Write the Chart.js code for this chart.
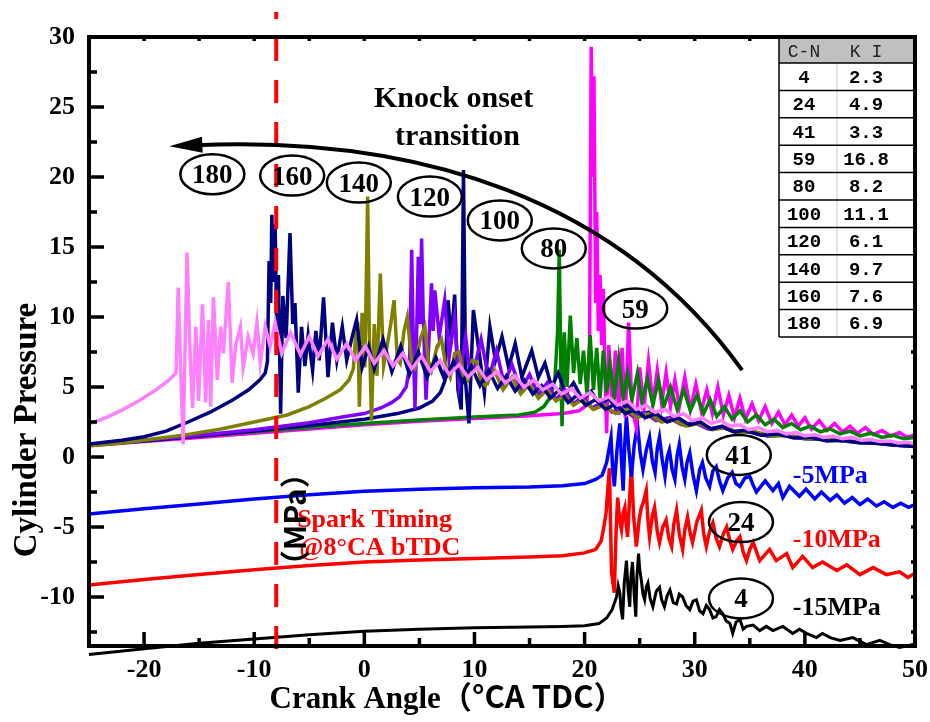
<!DOCTYPE html>
<html lang="en">
<head>
<meta charset="utf-8">
<title>Cylinder pressure vs crank angle</title>
<script src="https://cdn.jsdelivr.net/npm/chart.js@4.4.1/dist/chart.umd.min.js"></script>
<style>
  html, body { margin: 0; padding: 0; background: #fff; }
  canvas { display: block; }
</style>
</head>
<body>
<canvas id="grafikTekanan" width="930" height="722"></canvas>
<script>
// ====== DATA ======
// every trace is a list of [crank angle, pressure] points.
// the three lower traces are kept as plotted (already shifted -5 / -10 / -15 MPa)

const xTicks = [-20, -10, 0, 10, 20, 30, 40, 50];
const yTicks = [-10, -5, 0, 5, 10, 15, 20, 25, 30];
const sparkAngle = -8;

const cn180 = [
  [-25, 2.36], [-23.5, 2.8], [-22, 3.35], [-20.5, 4.0], [-19, 4.75], [-17.8, 5.45], [-17.1, 6.0],
  [-16.9, 12.1], [-16.65, 5.5], [-16.45, 0.9], [-16.1, 14.6], [-15.85, 8.0], [-15.6, 3.5], [-15.3, 9.3],
  [-15.05, 4.0], [-14.7, 10.9], [-14.4, 3.9], [-14.15, 9.8], [-13.95, 3.6], [-13.7, 11.4], [-13.35, 5.5],
  [-13.05, 9.3], [-12.8, 7.4], [-12.35, 12.5], [-12.0, 5.3], [-11.7, 7.9], [-11.25, 9.3], [-11.0, 6.4],
  [-10.55, 8.6], [-10.1, 7.4], [-9.75, 9.6], [-9.45, 6.7], [-9.0, 9.3], [-8.55, 7.9], [-8.1, 9.6],
  [-7.5, 7.4], [-6.7, 8.9], [-5.8, 7.3], [-5.0, 8.6], [-4.2, 7.2], [-3.3, 8.4], [-2.5, 7.0], [-1.6, 8.1],
  [-0.8, 6.9], [0.1, 7.9], [0.9, 6.7], [1.8, 7.6], [2.6, 6.5], [3.5, 7.4], [4.3, 6.3], [5.2, 7.2],
  [6.0, 6.1], [6.9, 6.9], [7.7, 5.9], [8.6, 6.6], [9.4, 5.7], [10.3, 6.4], [11.1, 5.5], [12.0, 6.1],
  [12.8, 5.3], [13.7, 5.8], [14.5, 5.0], [15.4, 5.5], [16.2, 4.8], [17.1, 5.2], [17.9, 4.5], [18.8, 4.9],
  [19.6, 4.2], [20.5, 4.6], [21.3, 4.0], [22.2, 4.3], [23.0, 3.7], [23.9, 4.0], [24.7, 3.4], [25.6, 3.7],
  [26.4, 3.2], [27.3, 3.4], [28.1, 2.9], [29.0, 3.1], [29.8, 2.6], [30.7, 2.8], [31.5, 2.4], [32.4, 2.6],
  [33.2, 2.2], [34.1, 2.3], [34.9, 1.95], [35.8, 2.1], [36.6, 1.8], [37.5, 1.9], [38.3, 1.65], [39.2, 1.75],
  [40.0, 1.5], [40.9, 1.6], [41.7, 1.4], [42.6, 1.5], [43.4, 1.3], [44.3, 1.4], [45.1, 1.2], [46.0, 1.25],
  [46.8, 1.1], [47.7, 1.15], [48.5, 1.0], [49.4, 1.05], [50.0, 0.95]
];

const cn160 = [
  [-25, 0.93], [-22, 1.2], [-20, 1.45], [-18, 1.85], [-16, 2.5], [-14, 3.2], [-12, 4.05], [-10.5, 4.8],
  [-9.5, 5.5], [-9.0, 6.0], [-8.8, 6.8],
  [-8.65, 14.0], [-8.5, 11.0], [-8.4, 17.3], [-8.25, 12.5], [-8.1, 16.6], [-7.95, 9.0], [-7.8, 13.0],
  [-7.6, 3.1], [-7.4, 11.5], [-7.1, 8.5], [-6.75, 16.0], [-6.5, 9.5], [-6.3, 11.0], [-6.0, 4.6],
  [-5.7, 9.3], [-5.4, 6.5], [-5.1, 8.7], [-4.7, 6.2], [-4.4, 9.0], [-4.1, 6.9], [-3.7, 11.4], [-3.3, 5.7],
  [-2.9, 9.6], [-2.5, 6.9], [-2.0, 9.3], [-1.6, 6.9], [-1.1, 8.6], [-0.7, 9.8], [-0.2, 6.4], [0.4, 7.9],
  [0.9, 6.3], [1.7, 8.4], [2.5, 6.1], [3.3, 7.9], [4.1, 5.9], [4.9, 7.5], [5.7, 5.7], [6.5, 7.1],
  [7.3, 5.5], [8.1, 6.8], [8.9, 5.3], [9.7, 6.5], [10.5, 5.1], [11.3, 6.2], [12.1, 4.9], [12.9, 5.8],
  [13.7, 4.7], [14.5, 5.5], [15.3, 4.5], [16.1, 5.1], [16.9, 4.2], [17.7, 4.8], [18.5, 3.9], [19.3, 4.4],
  [20.1, 3.7], [21.0, 4.1], [21.9, 3.4], [22.8, 3.8], [23.7, 3.1], [24.6, 3.4], [25.5, 2.8], [26.5, 3.1],
  [27.5, 2.5], [28.5, 2.8], [29.5, 2.3], [30.5, 2.5], [31.5, 2.0], [32.5, 2.2], [33.5, 1.8], [34.5, 1.9],
  [36.0, 1.55], [37.5, 1.65], [39.0, 1.35], [40.5, 1.4], [42.0, 1.15], [43.5, 1.2], [45.0, 1.0],
  [46.5, 1.0], [48.0, 0.85], [50.0, 0.75]
];

const cn140 = [
  [-25, 0.8], [-22, 1.0], [-19, 1.3], [-16, 1.6], [-13, 2.0], [-10, 2.5], [-7, 3.0], [-5, 3.6],
  [-3.5, 4.2], [-2.2, 4.8], [-1.4, 5.5], [-1.0, 6.3],
  [-0.8, 8.5], [-0.6, 9.6], [-0.45, 3.6], [-0.2, 10.3], [0.05, 6.4], [0.3, 18.6], [0.45, 9.0], [0.65, 2.6],
  [0.9, 9.5], [1.15, 5.8], [1.45, 13.1], [1.75, 6.5], [2.0, 7.6], [2.4, 9.5], [2.7, 11.2], [3.0, 7.0],
  [3.25, 6.7], [3.6, 9.0], [3.9, 10.0], [4.3, 6.8], [4.6, 6.4], [5.1, 8.5], [5.5, 9.3], [5.8, 6.9],
  [6.1, 6.2], [6.6, 7.9], [7.0, 8.4], [7.4, 6.5], [7.8, 5.7], [8.2, 7.4], [8.6, 7.5], [9.0, 5.8],
  [9.4, 5.5], [9.8, 6.9], [10.2, 6.8], [10.6, 5.4], [11.0, 5.1], [11.8, 6.2], [12.6, 4.8], [13.4, 5.7],
  [14.2, 4.5], [15.0, 5.2], [15.8, 4.2], [16.6, 4.8], [17.4, 4.0], [18.2, 4.4], [19.0, 3.7], [19.8, 4.1],
  [20.8, 3.4], [21.8, 3.7], [22.8, 3.1], [23.8, 3.4], [24.8, 2.8], [25.8, 3.1], [27.0, 2.5], [28.0, 2.7],
  [29.2, 2.2], [30.4, 2.4], [31.6, 1.95], [32.8, 2.1], [34.0, 1.75], [35.5, 1.8], [37.0, 1.5], [38.5, 1.55],
  [40.0, 1.3], [42.0, 1.3], [44.0, 1.1], [46.0, 1.05], [48.0, 0.9], [50.0, 0.8]
];

const cn120 = [
  [-25, 0.85], [-20, 1.2], [-15, 1.55], [-10, 1.95], [-5, 2.45], [-2, 2.85], [0, 3.1], [1.5, 3.5],
  [2.5, 3.9], [3.2, 4.3], [3.8, 5.0], [4.1, 6.4],
  [4.3, 14.8], [4.45, 8.0], [4.6, 3.4], [4.9, 14.3], [5.05, 9.5], [5.2, 15.6], [5.35, 10.0], [5.6, 4.1],
  [5.85, 8.0], [6.1, 12.4], [6.25, 9.0], [6.4, 11.9], [6.8, 8.6], [7.3, 11.2], [7.7, 7.1], [8.2, 10.0],
  [8.6, 5.3], [9.2, 8.6], [9.6, 5.9], [10.0, 6.4], [10.6, 8.4], [11.3, 5.6], [12.0, 7.6], [12.7, 5.2],
  [13.4, 6.6], [14.2, 4.8], [15.0, 5.9], [15.8, 4.4], [16.6, 5.3], [17.4, 4.1], [18.2, 4.8], [19.0, 3.8],
  [19.8, 4.3], [20.7, 3.5], [21.6, 3.9], [22.5, 3.2], [23.4, 3.5], [24.4, 2.9], [25.4, 3.2], [26.5, 2.6],
  [27.6, 2.8], [28.8, 2.3], [30.0, 2.45], [31.2, 2.0], [32.4, 2.15], [33.6, 1.8], [35.0, 1.85], [36.5, 1.55],
  [38.0, 1.6], [40.0, 1.35], [42.0, 1.3], [44.0, 1.15], [46.0, 1.05], [48.0, 0.9], [50.0, 0.8]
];

const cn100 = [
  [-25, 0.85], [-20, 1.15], [-15, 1.5], [-10, 1.85], [-5, 2.25], [0, 2.7], [3, 3.1], [5, 3.5],
  [6.2, 4.0], [6.9, 4.6], [7.3, 5.4],
  [7.6, 11.2], [7.9, 8.4], [8.2, 11.6], [8.5, 4.8], [8.8, 3.4], [9.0, 20.5], [9.2, 5.3], [9.5, 2.4],
  [9.9, 10.5], [10.4, 7.6], [10.9, 4.6], [11.4, 9.3], [11.9, 6.9], [12.5, 8.6], [13.1, 6.4], [13.7, 8.1],
  [14.3, 5.7], [15.2, 7.6], [15.8, 5.7], [16.4, 6.7], [17.0, 5.0], [17.6, 6.0], [18.3, 4.5], [19.0, 5.3],
  [19.8, 4.1], [20.6, 4.7], [21.4, 3.7], [22.2, 4.2], [23.0, 3.3], [23.9, 3.7], [24.8, 3.0], [25.8, 3.2],
  [26.8, 2.6], [27.8, 2.8], [29.0, 2.3], [30.2, 2.4], [31.4, 2.0], [32.6, 2.1], [33.8, 1.75], [35.2, 1.8],
  [36.6, 1.5], [38.0, 1.55], [40.0, 1.3], [42.0, 1.25], [44.0, 1.1], [46.0, 1.0], [48.0, 0.85], [50.0, 0.75]
];

const cn80 = [
  [-25, 0.85], [-20, 1.15], [-15, 1.5], [-10, 1.8], [-5, 2.1], [0, 2.4], [5, 2.65], [10, 2.85],
  [14, 3.0], [15.5, 3.2], [16.3, 3.6], [16.9, 4.3], [17.3, 5.5],
  [17.55, 9.0], [17.7, 14.8], [17.85, 6.0], [17.95, 2.2], [18.15, 8.9], [18.4, 5.0], [18.7, 10.1],
  [19.0, 6.0], [19.3, 8.5], [19.6, 5.2], [19.9, 7.6], [20.2, 4.6], [20.5, 8.7], [20.8, 4.8], [21.1, 7.8],
  [21.4, 4.2], [21.7, 7.6], [22.0, 4.6], [22.3, 6.7], [22.7, 4.3], [23.1, 7.0], [23.5, 4.2], [23.9, 6.0],
  [24.3, 4.1], [24.8, 6.0], [25.2, 3.9], [25.7, 5.6], [26.2, 3.7], [26.7, 5.5], [27.2, 3.6], [27.8, 5.0],
  [28.4, 3.4], [29.0, 4.8], [29.6, 3.3], [30.2, 4.4], [30.8, 3.1], [31.4, 4.1], [32.0, 2.9], [32.7, 3.6],
  [33.4, 2.7], [34.1, 3.3], [34.8, 2.5], [35.6, 3.0], [36.4, 2.3], [37.2, 2.7], [38.0, 2.1], [38.8, 2.4],
  [39.6, 1.95], [40.5, 2.2], [41.4, 1.8], [42.3, 2.0], [43.2, 1.65], [44.1, 1.85], [45.0, 1.5], [46.0, 1.7],
  [47.0, 1.4], [48.0, 1.55], [49.0, 1.3], [50.0, 1.4]
];

const cn59 = [
  [-25, 0.8], [-20, 1.1], [-15, 1.4], [-10, 1.7], [-5, 2.0], [0, 2.3], [5, 2.55], [10, 2.75],
  [15, 2.95], [18, 3.1], [19.5, 3.3], [20.2, 3.7],
  [20.45, 8.0], [20.6, 29.3], [20.75, 20.0], [20.85, 27.2], [21.0, 11.0], [21.1, 17.5], [21.25, 9.0],
  [21.4, 13.0], [21.55, 8.0], [21.7, 12.0], [21.85, 6.0], [22.0, 1.7], [22.2, 8.0], [22.5, 4.0],
  [22.8, 7.6], [23.1, 3.0], [23.4, 7.8], [23.7, 2.8], [24.0, 9.6], [24.3, 3.5], [24.7, 2.1], [25.0, 6.4],
  [25.4, 3.6], [25.8, 6.8], [26.2, 3.9], [26.6, 6.2], [27.0, 3.8], [27.4, 6.0], [27.8, 3.6], [28.2, 5.5],
  [28.6, 3.6], [29.1, 5.7], [29.6, 3.4], [30.1, 5.2], [30.6, 3.3], [31.1, 4.8], [31.6, 3.1], [32.1, 5.0],
  [32.6, 3.0], [33.1, 4.4], [33.6, 2.8], [34.1, 4.2], [34.6, 2.7], [35.2, 3.8], [35.8, 2.6], [36.4, 3.6],
  [37.0, 2.4], [37.6, 3.2], [38.2, 2.3], [38.8, 3.0], [39.4, 2.2], [40.0, 2.8], [40.6, 2.0], [41.3, 2.6],
  [42.0, 1.9], [42.7, 2.4], [43.4, 1.8], [44.1, 2.2], [44.8, 1.7], [45.5, 2.1], [46.2, 1.6], [47.0, 1.9],
  [47.8, 1.5], [48.6, 1.75], [49.3, 1.4], [50.0, 1.6]
];

const cn41 = [
  [-25, -4.07], [-20, -3.7], [-15, -3.35], [-10, -3.0], [-5, -2.7], [0, -2.45], [5, -2.3], [10, -2.2],
  [15, -2.15], [18, -2.05], [20, -1.9], [21, -1.6], [21.6, -1.3], [22.0, -0.4],
  [22.2, 0.5], [22.4, 1.4], [22.55, -0.9], [22.7, -2.1], [22.95, 0.6], [23.2, 2.4], [23.35, -0.3], [23.5, -2.4],
  [23.65, 1.0], [23.8, 2.9], [24.0, 0.7], [24.25, -1.4], [24.5, 0.8], [24.8, 2.3], [25.05, 0.3], [25.3, -0.9],
  [25.6, 0.5], [25.9, 1.4], [26.15, -0.3], [26.4, -1.1], [26.6, 0.6], [26.8, 1.4], [27.05, -0.2], [27.3, -1.4],
  [27.5, 0.0], [27.7, 0.5], [27.95, -0.9], [28.2, -1.6], [28.4, 0.1], [28.6, 0.9], [28.85, -0.7], [29.1, -1.6],
  [29.3, -0.4], [29.55, 0.3], [29.85, -1.3], [30.15, -2.4], [30.45, -0.9], [30.7, -0.4], [31.0, -1.5],
  [31.35, -2.1], [31.65, -1.0], [31.95, -0.7], [32.25, -1.7], [32.55, -2.4], [33.0, -1.5], [33.4, -1.1],
  [33.75, -1.9], [34.1, -2.1], [34.55, -1.5], [35.0, -1.4], [35.3, -2.0], [35.6, -2.5], [36.4, -1.7],
  [37.1, -2.4], [37.6, -1.9], [38.0, -2.9], [38.6, -2.1], [39.5, -2.8], [40.1, -2.3], [40.9, -3.0],
  [41.5, -2.5], [42.3, -3.1], [42.9, -2.7], [43.6, -3.3], [44.3, -2.9], [45.0, -3.4], [45.7, -3.0],
  [46.5, -3.5], [47.2, -3.2], [48.0, -3.6], [48.7, -3.3], [49.4, -3.6], [50.0, -3.4]
];

const cn24 = [
  [-25, -9.14], [-20, -8.75], [-15, -8.4], [-10, -8.05], [-5, -7.75], [0, -7.5], [5, -7.35], [10, -7.25],
  [15, -7.15], [18, -7.05], [20, -6.85], [21, -6.6], [21.5, -6.0], [21.75, -5.0], [21.95, -4.0],
  [22.25, -0.8], [22.45, -8.3], [22.7, -9.7], [22.85, -5.5], [23.0, -2.9], [23.2, -4.6], [23.35, -5.2],
  [23.5, -4.0], [23.65, -3.6], [23.8, -5.0], [23.9, -5.7], [24.1, -2.8], [24.25, -0.7], [24.45, -4.2],
  [24.7, -6.4], [24.95, -4.5], [25.15, -3.6], [25.35, -3.2], [25.6, -2.4], [25.75, -4.5], [25.9, -5.7],
  [26.15, -4.2], [26.35, -3.6], [26.6, -5.3], [26.8, -6.1], [27.1, -5.0], [27.4, -4.5], [27.65, -5.8],
  [27.9, -6.4], [28.1, -4.8], [28.35, -3.8], [28.6, -5.5], [28.9, -6.6], [29.1, -5.2], [29.35, -4.3],
  [29.6, -5.5], [29.8, -6.1], [30.2, -4.6], [30.6, -3.8], [30.8, -5.4], [31.05, -6.4], [31.35, -5.3],
  [31.65, -4.7], [31.95, -5.8], [32.25, -6.4], [32.6, -5.5], [32.9, -5.0], [33.2, -6.0], [33.45, -6.6],
  [33.8, -6.0], [34.1, -5.7], [34.4, -6.8], [34.7, -7.4], [35.0, -6.6], [35.3, -6.1], [35.9, -7.4],
  [36.8, -6.6], [37.4, -7.4], [38.35, -6.9], [38.9, -7.9], [39.8, -7.1], [40.7, -7.9], [41.6, -7.5],
  [42.9, -8.1], [43.8, -7.7], [45.0, -8.4], [46.2, -7.9], [47.4, -8.4], [48.6, -8.2], [49.35, -8.6],
  [50.0, -8.3]
];

const cn4 = [
  [-25, -14.1], [-20, -13.7], [-15, -13.3], [-10, -13.0], [-5, -12.7], [0, -12.45], [5, -12.3], [10, -12.2],
  [15, -12.15], [18, -12.1], [20, -12.05], [21.3, -11.9], [22.0, -11.5], [22.5, -10.9],
  [22.9, -10.0], [23.05, -9.2], [23.2, -9.7], [23.3, -10.8], [23.45, -11.6], [23.6, -9.0], [23.8, -7.4],
  [23.95, -9.5], [24.1, -10.7], [24.2, -8.6], [24.35, -7.5], [24.5, -9.8], [24.65, -11.4], [24.75, -8.5],
  [24.9, -6.9], [25.0, -8.0], [25.15, -8.8], [25.3, -9.8], [25.45, -10.2], [25.6, -9.3], [25.75, -9.0],
  [25.95, -10.1], [26.2, -10.7], [26.5, -9.6], [26.8, -9.3], [27.0, -10.2], [27.25, -10.7], [27.5, -9.9],
  [27.75, -9.5], [28.05, -10.4], [28.35, -10.5], [28.6, -9.8], [28.9, -10.0], [29.2, -10.6], [29.55, -10.9],
  [29.85, -10.3], [30.15, -10.2], [30.45, -11.0], [30.75, -11.2], [31.05, -10.6], [31.35, -10.9],
  [31.65, -11.5], [31.95, -11.4], [32.25, -10.9], [32.55, -11.2], [32.85, -11.7], [33.2, -11.9],
  [33.45, -12.6], [33.75, -11.8], [34.1, -11.6], [34.4, -12.3], [34.7, -12.1], [35.3, -12.0], [35.9, -12.4],
  [36.5, -12.1], [37.1, -12.4], [38.0, -12.1], [38.9, -12.6], [39.5, -12.3], [40.15, -12.6], [41.05, -12.9],
  [41.6, -12.6], [42.3, -12.9], [43.2, -13.1], [44.35, -12.9], [45.6, -13.4], [46.8, -13.1], [47.7, -13.4],
  [48.6, -13.6], [49.8, -13.4], [50.0, -13.5]
];

// knock intensity table (top right)
const tableCN = ["4", "24", "41", "59", "80", "100", "120", "140", "160", "180"];
const tableKI = ["2.3", "4.9", "3.3", "16.8", "8.2", "11.1", "6.1", "9.7", "7.6", "6.9"];

// ====== ANNOTATION PLACES (data units) ======
const ovalText = ["180", "160", "140", "120", "100", "80", "59", "41", "24", "4"];
const ovalAt = [[-13.8, 20.2], [-6.55, 20.1], [-0.5, 19.6], [5.95, 18.6], [12.3, 16.9], [17.2, 14.9],
                [24.6, 10.6], [34.0, 0.15], [34.2, -4.65], [34.2, -10.1]];
const offsetText = [["-5MPa", "#0000ff", -1.86], ["-10MPa", "#ff0000", -6.43], ["-15MPa", "#000000", -11.29]];
const arrowPath = [[34.3, 6.2], [23.2, 18.4], [5.0, 23.0], [-17.7, 22.2]];

const serif = '"Liberation Serif", "Times New Roman", serif';
const cjk = '"Noto Sans CJK SC", "Noto Sans", sans-serif';

// ====== PLUGIN: frame, ticks, notes, table ======
const hiasan = {
  id: 'hiasan',
  afterDatasetsDraw(chart) {
    const { ctx, chartArea: a, scales } = chart;
    const px = v => scales.x.getPixelForValue(v);
    const py = v => scales.y.getPixelForValue(v);
    ctx.save();

    // spark timing line (goes past the frame)
    const sx = px(sparkAngle);
    ctx.strokeStyle = '#ff0000';
    ctx.lineWidth = 4;
    ctx.setLineDash([23, 19]);
    ctx.lineDashOffset = 16;
    ctx.beginPath();
    ctx.moveTo(sx, a.top - 25);
    ctx.lineTo(sx, a.bottom + 22);
    ctx.stroke();
    ctx.setLineDash([]);

    // frame
    ctx.strokeStyle = '#000';
    ctx.lineWidth = 4;
    ctx.strokeRect(a.left, a.top, a.width, a.height);

    // inward ticks
    ctx.lineWidth = 3.5;
    ctx.beginPath();
    xTicks.forEach(v => {
      ctx.moveTo(px(v), a.bottom); ctx.lineTo(px(v), a.bottom - 14);
      ctx.moveTo(px(v), a.top); ctx.lineTo(px(v), a.top + 4);
      const m = v - 5;
      ctx.moveTo(px(m), a.bottom); ctx.lineTo(px(m), a.bottom - 8);
      ctx.moveTo(px(m), a.top); ctx.lineTo(px(m), a.top + 4);
    });
    yTicks.forEach(v => {
      ctx.moveTo(a.left, py(v)); ctx.lineTo(a.left + 15, py(v));
      ctx.moveTo(a.right, py(v)); ctx.lineTo(a.right - 4, py(v));
      const m = v - 2.5;
      ctx.moveTo(a.left, py(m)); ctx.lineTo(a.left + 8, py(m));
      ctx.moveTo(a.right, py(m)); ctx.lineTo(a.right - 4, py(m));
    });
    ctx.stroke();

    // knock onset arrow
    const p = arrowPath.map(q => [px(q[0]), py(q[1])]);
    ctx.lineWidth = 4;
    ctx.beginPath();
    ctx.moveTo(p[0][0], p[0][1]);
    ctx.bezierCurveTo(p[1][0], p[1][1], p[2][0], p[2][1], p[3][0] + 25, p[3][1] - 1);
    ctx.stroke();
    const ang = Math.atan2(p[3][1] - p[2][1], p[3][0] - p[2][0]);
    ctx.fillStyle = '#000';
    ctx.beginPath();
    ctx.moveTo(p[3][0], p[3][1]);
    ctx.lineTo(p[3][0] - 33 * Math.cos(ang) + 8 * Math.sin(ang), p[3][1] - 33 * Math.sin(ang) - 8 * Math.cos(ang));
    ctx.lineTo(p[3][0] - 33 * Math.cos(ang) - 8 * Math.sin(ang), p[3][1] - 33 * Math.sin(ang) + 8 * Math.cos(ang));
    ctx.closePath();
    ctx.fill();

    ctx.textAlign = 'center';
    ctx.textBaseline = 'alphabetic';
    ctx.font = 'bold 30px ' + serif;
    ctx.fillText('Knock onset', px(8.1), py(25.0));
    ctx.fillText('transition', px(8.45), py(22.3));

    // cycle-number ovals
    ctx.lineWidth = 2.5;
    ctx.font = 'bold 27px ' + serif;
    ovalText.forEach((t, i) => {
      const cx = px(ovalAt[i][0]), cy = py(ovalAt[i][1]);
      ctx.beginPath();
      ctx.ellipse(cx, cy, 32, 20, 0, 0, Math.PI * 2);
      ctx.stroke();
      ctx.fillText(t, cx, cy + 9);
    });

    // offset labels
    ctx.textAlign = 'left';
    ctx.font = 'bold 26px ' + serif;
    offsetText.forEach(o => {
      ctx.fillStyle = o[1];
      ctx.fillText(o[0], px(38.9), py(o[2]));
    });

    ctx.fillStyle = '#ff0000';
    ctx.fillText('Spark Timing', px(-6.1), py(-5.0));
    ctx.fillText('@8°CA bTDC', px(-5.9), py(-7.0));

    // stray unit label from the source figure
    ctx.fillStyle = '#000';
    ctx.save();
    ctx.translate(sx + 30, py(-4.45));
    ctx.rotate(-Math.PI / 2);
    ctx.textAlign = 'center';
    ctx.font = 'bold 30px ' + cjk;
    ctx.fillText('（MPa）', 0, 0);
    ctx.restore();

    // table
    const tl = a.right - 136, tr = a.right - 2, tm = a.right - 78, tt = a.top + 2;
    const headH = 24, rowH = 27.4;
    const tb = tt + headH + rowH * tableCN.length;
    ctx.fillStyle = '#fff';
    ctx.fillRect(tl, tt, tr - tl, tb - tt);
    ctx.fillStyle = '#c0c0c0';
    ctx.fillRect(tl, tt, tr - tl, headH);
    ctx.strokeStyle = '#c8c8c8';
    ctx.lineWidth = 1;
    ctx.beginPath();
    ctx.moveTo(tm, tt + headH); ctx.lineTo(tm, tb);
    ctx.stroke();
    ctx.strokeStyle = '#000';
    ctx.lineWidth = 1.5;
    ctx.beginPath();
    ctx.moveTo(tl, tt); ctx.lineTo(tl, tb);
    for (let r = 0; r <= tableCN.length; r++) {
      const yy = tt + headH + r * rowH;
      ctx.moveTo(tl, yy); ctx.lineTo(tr, yy);
    }
    ctx.stroke();
    ctx.textAlign = 'center';
    ctx.fillStyle = '#222';
    ctx.font = '18px "Liberation Mono", monospace';
    ctx.fillText('C-N', tl + 25, tt + 18);
    ctx.fillText('K I', tm + 29, tt + 18);
    ctx.fillStyle = '#000';
    ctx.font = 'bold 19px "Liberation Mono", monospace';
    tableCN.forEach((c, r) => {
      const yy = tt + headH + r * rowH + rowH / 2 + 6;
      ctx.fillText(c, tl + 25, yy);
      ctx.fillText(tableKI[r], tm + 29, yy);
    });

    // axis titles
    ctx.textAlign = 'left';
    ctx.font = 'bold 31px ' + serif;
    const w1 = ctx.measureText('Crank Angle').width;
    ctx.font = 'bold 31px ' + cjk;
    const w2 = ctx.measureText('（°CA TDC）').width;
    const x0 = a.left + 358 - (w1 + w2) / 2;
    ctx.font = 'bold 31px ' + serif;
    ctx.fillText('Crank Angle', x0, a.bottom + 62);
    ctx.font = 'bold 31px ' + cjk;
    ctx.fillText('（°CA TDC）', x0 + w1, a.bottom + 62);

    ctx.save();
    ctx.translate(a.left - 53, a.top + 393);
    ctx.rotate(-Math.PI / 2);
    ctx.textAlign = 'center';
    ctx.font = 'bold 33px ' + serif;
    ctx.fillText('Cylinder Pressure', 0, 0);
    ctx.restore();

    ctx.restore();
  }
};

// ====== CHART ======
function trace(label, pts, color, order, extra) {
  return Object.assign({
    label,
    data: pts.map(q => ({ x: q[0], y: q[1] })),
    borderColor: color,
    backgroundColor: color,
    borderWidth: 3.5,
    pointRadius: 0,
    tension: 0,
    order
  }, extra || {});
}

Chart.defaults.font.family = serif;
Chart.defaults.color = '#000';

new Chart(document.getElementById('grafikTekanan'), {
  type: 'line',
  data: {
    datasets: [
      trace('180', cn180, '#ff80ff', 1),
      trace('160', cn160, '#000080', 2),
      trace('140', cn140, '#808000', 3),
      trace('120', cn120, '#8000ff', 4),
      trace('100', cn100, '#000080', 5),
      trace('80', cn80, '#008000', 6),
      trace('59', cn59, '#ff00ff', 7),
      trace('41', cn41, '#0000ff', 8),
      trace('24', cn24, '#ff0000', 9),
      trace('4', cn4, '#000000', 10, { borderWidth: 3, clip: false })
    ]
  },
  options: {
    responsive: false,
    animation: false,
    devicePixelRatio: 1,
    layout: { padding: { top: 37, right: 15, left: 0, bottom: 0 } },
    plugins: { legend: { display: false }, tooltip: { enabled: false } },
    scales: {
      x: {
        type: 'linear',
        min: -25,
        max: 50,
        grid: { display: false, drawTicks: false },
        border: { display: false },
        afterBuildTicks: s => { s.ticks = xTicks.map(v => ({ value: v })); },
        afterFit: s => { s.height = 76; s.paddingLeft = 0; s.paddingRight = 0; },
        ticks: { font: { size: 26, weight: 'bold' }, padding: 9, maxRotation: 0 }
      },
      y: {
        type: 'linear',
        min: -13.5,
        max: 30,
        grid: { display: false, drawTicks: false },
        border: { display: false },
        afterBuildTicks: s => { s.ticks = yTicks.map(v => ({ value: v })); },
        afterFit: s => { s.width = 89; },
        ticks: { font: { size: 26, weight: 'bold' }, padding: 14 }
      }
    }
  },
  plugins: [hiasan]
});
</script>
</body>
</html>
